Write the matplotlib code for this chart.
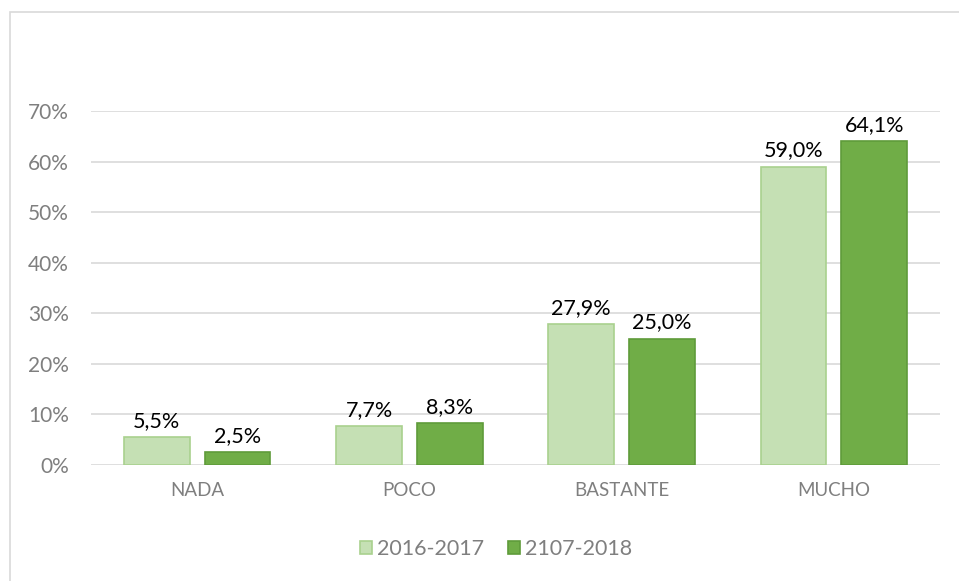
import matplotlib.pyplot as plt
import numpy as np
from matplotlib.patches import Rectangle
from matplotlib.ticker import FuncFormatter

plt.rcParams["font.family"] = ["Lato", "DejaVu Sans"]

categories = ["NADA", "POCO", "BASTANTE", "MUCHO"]
series_names = ["2016-2017", "2107-2018"]
vals_1617 = [5.5, 7.7, 27.9, 59.0]
vals_1718 = [2.5, 8.3, 25.0, 64.1]

face = ["#C5E0B4", "#70AD47"]
edge = ["#A9D18E", "#5F9B3A"]
grey = "#7F7F7F"

fig = plt.figure(figsize=(9.59, 5.81), dpi=100)
ax = fig.add_axes([91 / 959, 1 - 465 / 581, (940 - 91) / 959, (465 - 111) / 581])

# chart frame
fig.patches.append(Rectangle((10 / 959, -0.1), 1.1, 1 - 12 / 581 + 0.1,
                             transform=fig.transFigure, fill=False,
                             edgecolor="#D9D9D9", lw=1.2))

x = np.arange(len(categories))
w = 0.31
off = 0.035 + w / 2
for k, vals in enumerate([vals_1617, vals_1718]):
    pos = x + (-off if k == 0 else off)
    bars = ax.bar(pos, vals, w, color=face[k], edgecolor=edge[k], lw=1.2,
                  label=series_names[k], zorder=3)
    for b, v in zip(bars, vals):
        ax.text(b.get_x() + b.get_width() / 2, v + 1.2,
                f"{v:.1f}%".replace(".", ","), ha="center", va="bottom",
                fontsize=15.5, color="black")

ax.set_xlim(-0.5, 3.5)
ax.set_ylim(0, 70)
ax.set_yticks(range(0, 71, 10))
ax.yaxis.set_major_formatter(FuncFormatter(lambda v, p: f"{int(v)}%"))
ax.set_xticks(x)
ax.set_xticklabels(categories)
ax.tick_params(axis="both", length=0, colors=grey)
ax.tick_params(axis="y", labelsize=15, pad=16)
ax.tick_params(axis="x", labelsize=13.5, pad=12)
ax.grid(axis="y", color="#D9D9D9", lw=1.2, zorder=0)
for s in ax.spines.values():
    s.set_visible(False)

fig.legend(loc="center", bbox_to_anchor=(496 / 959, 1 - 549 / 581), ncol=2,
           frameon=False, fontsize=15.5, labelcolor=grey, handlelength=0.55,
           handleheight=0.55, handletextpad=0.25, columnspacing=1.1)

fig.savefig("out.png", dpi=100)
